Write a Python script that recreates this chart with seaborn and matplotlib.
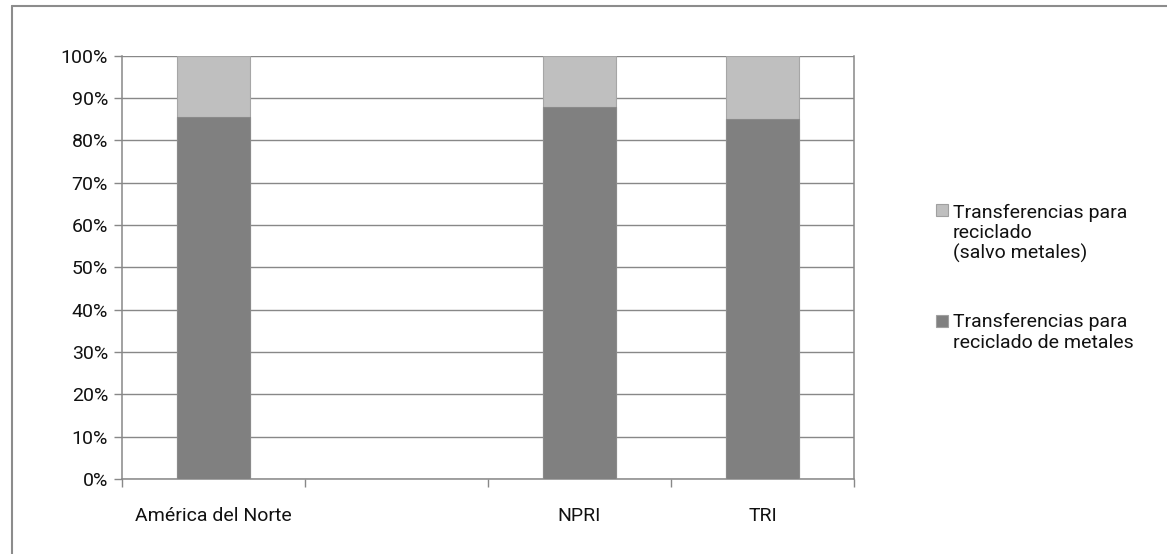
import pandas as pd
import seaborn as sns
import matplotlib.pyplot as plt
from matplotlib.lines import Line2D
from matplotlib.patches import Rectangle
from matplotlib.ticker import PercentFormatter, FixedLocator

sns.set_theme(style='white')
plt.rcParams['font.family'] = ['Roboto', 'DejaVu Sans']

# chart data
categories = ['América del Norte', ' ', 'NPRI', 'TRI']
regions = ['América del Norte', 'NPRI', 'TRI']
metales = [0.855, 0.878, 0.851]
salvo_metales = [0.145, 0.122, 0.149]
legend_labels = ['Transferencias para\nreciclado\n(salvo metales)',
                 'Transferencias para\nreciclado de metales']

df = pd.DataFrame({'region': regions, 'metales': metales, 'otros': salvo_metales})
df['total'] = df.metales + df.otros

light, dark = '#bfbfbf', '#808080'
grid_c = '#888888'
txt_c = '#111111'
fs = 14

fig = plt.figure(figsize=(11.67, 5.54), dpi=100)
ax = fig.add_axes([0.1045, 0.1354, 0.6273, 0.7644])

sns.barplot(data=df, x='region', y='total', order=categories, color=light, width=0.4,
            saturation=1, edgecolor='#a6a6a6', linewidth=0.8, ax=ax, zorder=3)
sns.barplot(data=df, x='region', y='metales', order=categories, color=dark, width=0.4,
            saturation=1, edgecolor='#8a8a8a', linewidth=0.8, ax=ax, zorder=4)

ax.set_xlim(-0.5, 3.5)
ax.set_ylim(0, 1)
ax.set_yticks([i / 10 for i in range(11)])
ax.yaxis.set_major_formatter(PercentFormatter(1, decimals=0))
ax.yaxis.grid(True, color=grid_c, linewidth=1.0, zorder=0)
ax.set_axisbelow(True)
ax.set_xlabel('')
ax.set_ylabel('')

ax.xaxis.set_minor_locator(FixedLocator([-0.5, 0.5, 1.5, 2.5, 3.5]))
ax.tick_params(axis='x', which='major', length=0, pad=20, labelsize=fs, labelcolor=txt_c)
ax.tick_params(axis='x', which='minor', length=6, width=1, color=grid_c, direction='out', bottom=True)
ax.tick_params(axis='y', length=6, width=1, color=grid_c, direction='out', left=True,
               pad=4, labelsize=fs, labelcolor=txt_c)

for side in ['left', 'bottom', 'right']:
    ax.spines[side].set_color(grid_c)
    ax.spines[side].set_linewidth(1.1)
ax.spines['top'].set_visible(False)

# legend drawn by hand so squares sit on the first line
W, H = 1167, 554
entries = [(legend_labels[0], light, 210, 233.5), (legend_labels[1], dark, 321, 332.5)]
for lab, col, sq_y, txt_y in entries:
    fig.add_artist(Rectangle((936 / W, 1 - (sq_y + 6) / H), 12 / W, 12 / H,
                             transform=fig.transFigure, facecolor=col,
                             edgecolor='#a0a0a0', linewidth=0.8))
    fig.text(953 / W, 1 - txt_y / H, lab, va='center', ha='left', fontsize=fs,
             color=txt_c, linespacing=1.15)

# outer chart frame (top and left visible)
x0, y0 = 12 / W, 1 - 6 / H
fig.add_artist(Line2D([x0, 1], [y0, y0], color='#8c8c8c', linewidth=1.5, transform=fig.transFigure))
fig.add_artist(Line2D([x0, x0], [0, y0], color='#8c8c8c', linewidth=1.5, transform=fig.transFigure))

fig.savefig('out.png', dpi=100)
